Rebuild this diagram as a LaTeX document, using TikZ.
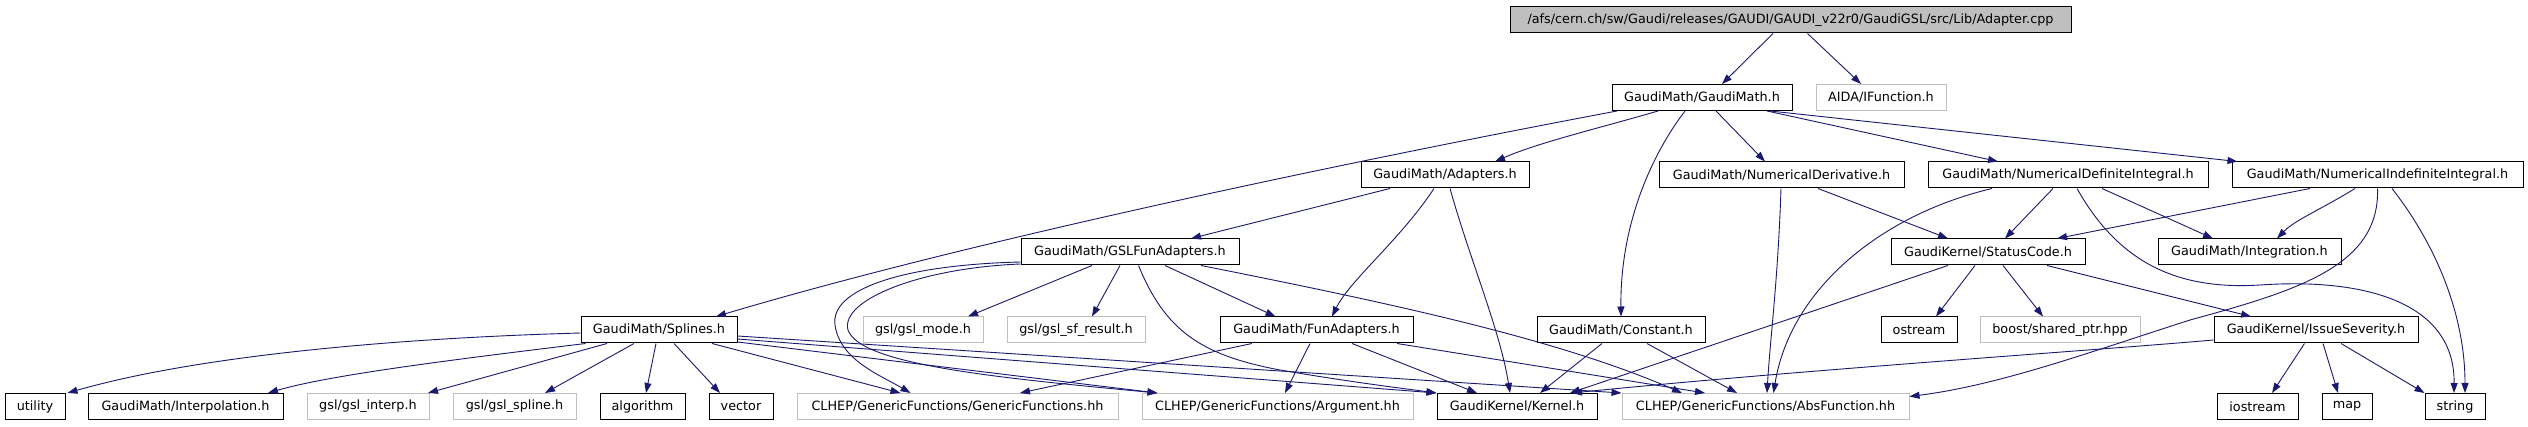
\documentclass[tikz,border=0pt]{standalone}
\usepackage{fontspec}
\newfontfamily\nodefont{DejaVu Sans}
\usetikzlibrary{arrows.meta}
\definecolor{mblue}{HTML}{191970}
\definecolor{grayc}{HTML}{BFBFBF}
\definecolor{rootfill}{HTML}{BFBFBF}
\tikzset{
  dbox/.style={draw=black, fill=white, line width=1pt, minimum height=26pt, inner sep=0pt,
    font={\nodefont\fontsize{12.8}{15}\selectfont}},
  gbox/.style={dbox, draw=grayc},
  rbox/.style={dbox, fill=rootfill},
  dep/.style={draw=mblue, line width=0.9pt, -{Triangle[length=10pt,width=7pt]}},
}
\begin{document}
\begin{tikzpicture}[x=1pt,y=-1pt]
\useasboundingbox (0,0) rectangle (2528,427);
\fill[white] (0,0) rectangle (2528,427);
% row 0
\node[rbox, minimum width=561pt] (root) at (1790.5,20) {/afs/cern.ch/sw/Gaudi/releases/GAUDI/GAUDI\_v22r0/GaudiGSL/src/Lib/Adapter.cpp};
% row 1
\node[dbox, minimum width=180pt] (gm) at (1702,97.5) {GaudiMath/GaudiMath.h};
\node[gbox, minimum width=130pt] (aida) at (1881,97.5) {AIDA/IFunction.h};
% row 2
\node[dbox, minimum width=168pt] (adapters) at (1445,175) {GaudiMath/Adapters.h};
\node[dbox, minimum width=245pt] (nder) at (1781.5,175) {GaudiMath/NumericalDerivative.h};
\node[dbox, minimum width=280pt] (ndi) at (2068,175) {GaudiMath/NumericalDefiniteIntegral.h};
\node[dbox, minimum width=291pt] (nii) at (2377.5,175) {GaudiMath/NumericalIndefiniteIntegral.h};
% row 3
\node[dbox, minimum width=218pt] (gsl) at (1130,252) {GaudiMath/GSLFunAdapters.h};
\node[dbox, minimum width=194pt] (status) at (1988,252) {GaudiKernel/StatusCode.h};
\node[dbox, minimum width=183pt] (integ) at (2249.5,252) {GaudiMath/Integration.h};
% row 4
\node[dbox, minimum width=156pt] (splines) at (659,330) {GaudiMath/Splines.h};
\node[gbox, minimum width=120pt] (gslmode) at (923,330) {gsl/gsl\_mode.h};
\node[gbox, minimum width=138pt] (gslsf) at (1076,330) {gsl/gsl\_sf\_result.h};
\node[dbox, minimum width=193pt] (funad) at (1316.5,330) {GaudiMath/FunAdapters.h};
\node[dbox, minimum width=168pt] (constant) at (1621,330) {GaudiMath/Constant.h};
\node[dbox, minimum width=76pt] (ostream) at (1919,330) {ostream};
\node[gbox, minimum width=160pt] (boost) at (2060,330) {boost/shared\_ptr.hpp};
\node[dbox, minimum width=204pt] (issue) at (2316,330) {GaudiKernel/IssueSeverity.h};
% row 5
\node[dbox, minimum width=60pt] (utility) at (35,406.5) {utility};
\node[dbox, minimum width=195pt] (interp) at (185.5,406.5) {GaudiMath/Interpolation.h};
\node[gbox, minimum width=122pt] (gslinterp) at (368,406.5) {gsl/gsl\_interp.h};
\node[gbox, minimum width=123pt] (gslspline) at (514.5,406.5) {gsl/gsl\_spline.h};
\node[dbox, minimum width=85pt] (algorithm) at (642.5,406.5) {algorithm};
\node[dbox, minimum width=64pt] (vector) at (741,406.5) {vector};
\node[gbox, minimum width=321pt] (generic) at (957.5,406.5) {CLHEP/GenericFunctions/GenericFunctions.hh};
\node[gbox, minimum width=271pt] (argument) at (1277.5,406.5) {CLHEP/GenericFunctions/Argument.hh};
\node[dbox, minimum width=160pt] (kernel) at (1517,406.5) {GaudiKernel/Kernel.h};
\node[gbox, minimum width=287pt] (abs) at (1765.5,406.5) {CLHEP/GenericFunctions/AbsFunction.hh};
\node[dbox, minimum width=81pt] (iostream) at (2257.5,406.5) {iostream};
\node[dbox, minimum width=50pt] (map) at (2347,406.5) {map};
\node[dbox, minimum width=60pt] (string) at (2455,406.5) {string};

% root
\draw[dep] ([xshift=-17.5pt]root.south) -- ([xshift=20pt]gm.north);
\draw[dep] ([xshift=17pt]root.south) -- ([xshift=-20pt]aida.north);
% GaudiMath.h
\draw[dep] ([xshift=-85pt]gm.south) .. controls (1420,148) and (1000,232) .. ([xshift=57pt]splines.north);
\draw[dep] ([xshift=-44pt]gm.south) .. controls (1600,128) and (1540,142) .. ([xshift=50pt]adapters.north);
\draw[dep] ([xshift=-17pt]gm.south) .. controls (1655,150) and (1620,220) .. (constant.north);
\draw[dep] ([xshift=14pt]gm.south) -- ([xshift=-16.5pt]nder.north);
\draw[dep] ([xshift=65pt]gm.south) -- ([xshift=-70pt]ndi.north);
\draw[dep] ([xshift=68pt]gm.south) -- ([xshift=-140pt]nii.north);
% Adapters.h
\draw[dep] ([xshift=-55pt]adapters.south) -- ([xshift=61pt]gsl.north);
\draw[dep] ([xshift=-11pt]adapters.south) .. controls (1400,240) and (1350,280) .. ([xshift=15.5pt]funad.north);
\draw[dep] ([xshift=5pt]adapters.south) .. controls (1470,260) and (1500,330) .. ([xshift=-7pt]kernel.north);
% NumericalDerivative.h
\draw[dep] ([xshift=36.5pt]nder.south) -- ([xshift=-40pt]status.north);
\draw[dep] ([xshift=-0.5pt]nder.south) .. controls (1778,280) and (1770,340) .. ([xshift=1.5pt]abs.north);
% NumericalDefiniteIntegral.h
\draw[dep] ([xshift=-76pt]ndi.south) .. controls (1880,215) and (1790,290) .. ([xshift=8pt]abs.north);
\draw[dep] ([xshift=-15pt]ndi.south) -- ([xshift=17pt]status.north);
\draw[dep] ([xshift=9pt]ndi.south) .. controls (2120,265) and (2180,290) .. (2260,285) .. controls (2360,278) and (2455,300) .. ([xshift=-1pt]string.north);
\draw[dep] ([xshift=34pt]ndi.south) -- ([xshift=-36.5pt]integ.north);
% NumericalIndefiniteIntegral.h
\draw[dep] ([xshift=-67.5pt]nii.south) -- ([xshift=69pt]status.north);
\draw[dep] ([xshift=-22.5pt]nii.south) .. controls (2320,210) and (2295,220) .. ([xshift=27.5pt]integ.north);
\draw[dep] (nii.south) .. controls (2380,265) and (2300,290) .. (2190,320) .. controls (2090,352) and (2000,385) .. ([yshift=10pt]abs.east);
\draw[dep] ([xshift=14.5pt]nii.south) .. controls (2440,250) and (2465,320) .. ([xshift=10pt]string.north);
% GSLFunAdapters.h
\draw[dep] ([xshift=-38pt]gsl.south) -- ([xshift=45pt]gslmode.north);
\draw[dep] ([xshift=-10pt]gsl.south) -- ([xshift=16pt]gslsf.north);
\draw[dep] ([xshift=35pt]gsl.south) -- ([xshift=-41pt]funad.north);
\draw[dep] ([xshift=8.5pt]gsl.south) .. controls (1165,330) and (1200,355) .. (1280,370) .. controls (1350,382) and (1400,388) .. (kernel.north west);
\draw[dep] ([xshift=71pt]gsl.south) .. controls (1400,305) and (1560,340) .. ([xshift=-83.5pt]abs.north);
\draw[dep] ([yshift=-10pt]gsl.west) .. controls (900,265) and (830,290) .. (835,325) .. controls (840,360) and (880,375) .. ([xshift=-47pt]generic.north);
\draw[dep] ([yshift=-12pt]gsl.west) .. controls (920,268) and (840,300) .. (848,330) .. controls (860,365) and (1000,378) .. ([xshift=16pt]argument.north west);
% Splines.h
\draw[dep] ([yshift=-3pt]splines.west) .. controls (400,338) and (200,355) .. ([xshift=2pt]utility.north east);
\draw[dep] ([xshift=5pt]splines.south west) .. controls (450,360) and (330,375) .. ([xshift=82.5pt]interp.north);
\draw[dep] ([xshift=-52pt]splines.south) -- ([xshift=60pt]gslinterp.north);
\draw[dep] ([xshift=-25pt]splines.south) -- ([xshift=30.5pt]gslspline.north);
\draw[dep] ([xshift=-3pt]splines.south) -- ([xshift=3.5pt]algorithm.north);
\draw[dep] ([xshift=15pt]splines.south) -- ([xshift=-21pt]vector.north);
\draw[dep] ([xshift=53pt]splines.south) -- ([xshift=-57pt]generic.north);
\draw[dep] ([yshift=-12pt]splines.east) -- ([xshift=16pt]argument.north west);
\draw[dep] ([yshift=-9pt]splines.east) -- (kernel.north west);
\draw[dep] ([yshift=-6pt]splines.east) -- (abs.north west);
% FunAdapters.h
\draw[dep] ([xshift=-64.5pt]funad.south) -- ([xshift=62.5pt]generic.north);
\draw[dep] ([xshift=-6.5pt]funad.south) -- ([xshift=7.5pt]argument.north);
\draw[dep] ([xshift=35.5pt]funad.south) -- ([xshift=-40pt]kernel.north);
\draw[dep] ([xshift=80.5pt]funad.south) -- ([xshift=-60.5pt]abs.north);
% Constant.h
\draw[dep] ([xshift=-19pt]constant.south) -- ([xshift=23pt]kernel.north);
\draw[dep] ([xshift=26pt]constant.south) -- ([xshift=-28.5pt]abs.north);
% StatusCode.h
\draw[dep] ([xshift=-40pt]status.south) -- ([xshift=53pt]kernel.north);
\draw[dep] ([xshift=-13pt]status.south) -- ([xshift=17pt]ostream.north);
\draw[dep] ([xshift=15pt]status.south) -- ([xshift=-17pt]boost.north);
\draw[dep] ([xshift=59pt]status.south) -- ([xshift=-65pt]issue.north);
% IssueSeverity.h
\draw[dep] ([yshift=-10pt]issue.west) .. controls (2100,350) and (1800,370) .. ([xshift=55pt]kernel.north);
\draw[dep] ([xshift=-11.5pt]issue.south) -- ([xshift=14.5pt]iostream.north);
\draw[dep] ([xshift=7pt]issue.south) -- ([xshift=-9pt]map.north);
\draw[dep] ([xshift=25pt]issue.south) -- (string.north west);
\end{tikzpicture}
\end{document}
